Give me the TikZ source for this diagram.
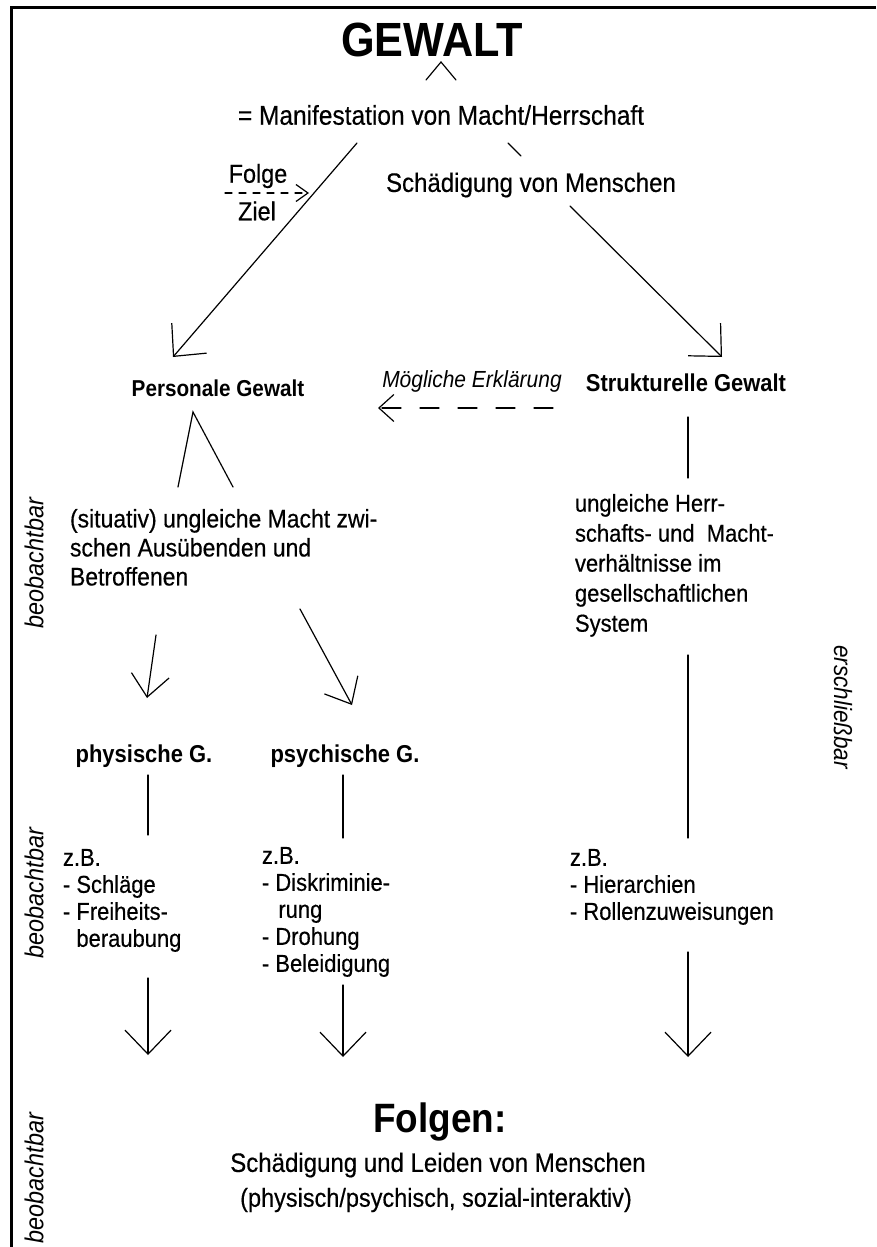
\documentclass[tikz,border=0pt]{standalone}
\usepackage{fontspec}
\setmainfont{Liberation Sans}[
  BoldFont={Liberation Sans Bold},
  ItalicFont={Liberation Sans Italic},
  BoldItalicFont={Liberation Sans Bold Italic},
  FakeStretch=0.9,
  UprightFeatures={FakeBold=0.4}]
\usetikzlibrary{arrows.meta}
\newcommand{\fsz}[2]{\fontsize{#1pt}{#2pt}\selectfont}
\begin{document}
\begin{tikzpicture}[x=1pt,y=1pt,
  ln/.style={line width=1.2pt, line cap=round},
  arr/.style={ln, -{Straight Barb[length=24pt,width=46pt]}},
  marr/.style={ln, -{Straight Barb[length=22pt,width=38pt]}},
  t/.style={inner sep=0pt, outer sep=0pt},
  reg/.style={t, font=\fsz{#1}{#1}},
  bld/.style={t, font=\bfseries\fsz{#1}{#1}},
  itl/.style={t, font=\itshape\fsz{#1}{#1}},
  blk/.style={t, anchor=north west, align=left},
  side/.style={t, font=\itshape\fsz{26}{26}}
]
\useasboundingbox (0,0) rectangle (876,-1247);
\fill[white] (0,0) rectangle (876,-1247);
% frame
\draw[line width=3pt] (11,-1247) -- (11,-8) -- (876,-8);

% title
\node[bld=48] (gewalt) at (432,-40) {GEWALT};
\coordinate (ca) at (426,-80);
\coordinate (cb) at (441,-62);
\coordinate (cc) at (456,-80);
\draw[ln] (ca) -- (cb) -- (cc);
\node[reg=27.2] (manif) at (441,-115) {= Manifestation von Macht/Herrschaft};

% diagonals
\coordinate (l1s) at (357,-143);
\coordinate (l1e) at (173,-357);
\draw[arr] (l1s) -- (l1e);
\coordinate (r0s) at (508,-143);
\coordinate (r0e) at (521,-156);
\draw[ln] (r0s) -- (r0e);
\coordinate (r1s) at (570,-206);
\coordinate (r1e) at (722,-357);
\draw[arr] (r1s) -- (r1e);

\node[reg=26] (folge) at (258,-176) {Folge};
\node[reg=26] (ziel) at (257,-211) {Ziel};
\coordinate (fa) at (225,-193);
\coordinate (fb) at (309,-193);
\draw[ln, dash pattern=on 7pt off 7pt, -{Straight Barb[length=12pt,width=17pt]}] (fa) -- (fb);

\node[reg=26.7] (schaed) at (531,-185) {Schädigung von Menschen};

% second level
\node[bld=23] (pers) at (218,-388) {Personale Gewalt};
\node[itl=23.3] (moegl) at (472,-381) {Mögliche Erklärung};
\coordinate (ms) at (553,-408);
\coordinate (me) at (378,-408);
\draw[ln, dash pattern=on 19pt off 19pt, -{Straight Barb[length=15pt,width=27pt]}] (ms) -- (me);
\node[bld=24.4] (struct) at (686,-383) {Strukturelle Gewalt};

\coordinate (pa) at (178,-487);
\coordinate (pb) at (193,-412);
\coordinate (pc) at (233,-487);
\draw[ln] (pa) -- (pb) -- (pc);
\coordinate (sv1) at (688,-417);
\coordinate (sv2) at (688,-478);
\draw[ln] (sv1) -- (sv2);

\node[blk, font=\fsz{25.5}{29}] (situ) at (70,-509)
  {(situativ) ungleiche Macht zwi-\\schen Ausübenden und\\Betroffenen};
\node[blk, font=\fsz{24.4}{30}] (ungl) at (575,-494)
  {ungleiche Herr-\\schafts- und\ \ Macht-\\verhältnisse im\\gesellschaftlichen\\System};

\coordinate (a1s) at (156,-635);
\coordinate (a1e) at (147,-698);
\draw[marr] (a1s) -- (a1e);
\coordinate (a2s) at (300,-609);
\coordinate (a2e) at (352,-705);
\draw[marr] (a2s) -- (a2e);

\node[bld=24.4] (phys) at (144,-756) {physische G.};
\node[bld=24.4] (psych) at (345,-756) {psychische G.};

\coordinate (v1a) at (148,-775);
\coordinate (v1b) at (148,-835);
\draw[ln] (v1a) -- (v1b);
\coordinate (v2a) at (343,-775);
\coordinate (v2b) at (343,-838);
\draw[ln] (v2a) -- (v2b);
\coordinate (v3a) at (688,-655);
\coordinate (v3b) at (688,-838);
\draw[ln] (v3a) -- (v3b);

\node[blk, font=\fsz{24.4}{27}] (zb1) at (63,-849)
  {z.B.\\- Schläge\\- Freiheits-\\\phantom{- }beraubung};
\node[blk, font=\fsz{24.4}{27}] (zb2) at (262,-847)
  {z.B.\\- Diskriminie-\\\phantom{- }\hspace{3pt}rung\\- Drohung\\- Beleidigung};
\node[blk, font=\fsz{24.4}{27}] (zb3) at (570,-849)
  {z.B.\\- Hierarchien\\- Rollenzuweisungen};

\coordinate (b1s) at (148,-978);
\coordinate (b1e) at (148,-1055);
\draw[arr] (b1s) -- (b1e);
\coordinate (b2s) at (343,-985);
\coordinate (b2e) at (343,-1057);
\draw[arr] (b2s) -- (b2e);
\coordinate (b3s) at (688,-952);
\coordinate (b3e) at (688,-1057);
\draw[arr] (b3s) -- (b3e);

\node[bld=41] (folgen) at (440,-1122) {Folgen:};
\node[reg=26.7] (leid) at (438,-1165) {Schädigung und Leiden von Menschen};
\node[reg=26.1] (phy2) at (436,-1200) {(physisch/psychisch, sozial-interaktiv)};

% side labels
\node[side, rotate=90] (beo1) at (34,-563) {beobachtbar};
\node[side, rotate=90] (beo2) at (34,-893) {beobachtbar};
\node[side, rotate=90] (beo3) at (34,-1178) {beobachtbar};
\node[t, rotate=-90, font=\itshape\fsz{25}{25}] (ersch) at (843,-707) {erschließbar};
\end{tikzpicture}
\end{document}
